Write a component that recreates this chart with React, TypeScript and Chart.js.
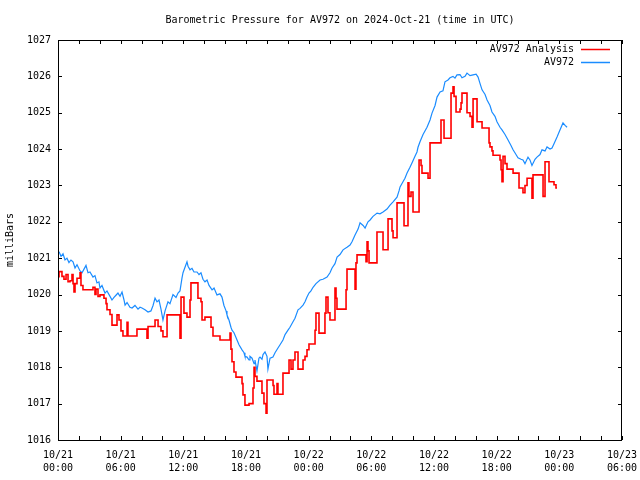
import React, { useEffect, useRef } from "react";
import { Chart, registerables } from "chart.js";

Chart.register(...registerables);

// Hours since 2024-10-21 00:00 UTC
const obsHours = [
  0.10, 0.29, 0.48, 0.67, 0.86, 1.05, 1.24, 1.44, 1.63, 1.82, 2.11, 2.30, 2.49, 2.68, 2.87, 3.06,
  3.35, 3.54, 3.73, 3.92, 4.02, 4.21, 4.50, 4.69, 4.98, 5.17, 5.36, 5.55, 5.74, 5.94, 6.13, 6.32,
  6.42, 6.61, 6.89, 7.09, 7.37, 7.66, 7.85, 8.04, 8.33, 8.62, 8.90, 9.10, 9.29, 9.48, 9.67, 9.86,
  10.05, 10.25, 10.53, 10.72, 11.01, 11.30, 11.49, 11.68, 11.87, 11.97, 12.16, 12.35, 12.45, 12.64,
  12.83, 13.02, 13.31, 13.50, 13.69, 13.88, 14.07, 14.27, 14.46, 14.75, 14.94, 15.22, 15.51, 15.70,
  15.89, 16.09, 16.18, 16.37, 16.56, 16.66, 16.85, 17.04, 17.14, 17.33, 17.62, 17.81, 17.90, 18.10,
  18.29, 18.38, 18.58, 18.77, 18.86, 19.05, 19.24, 19.34, 19.53, 19.63, 19.82, 20.01, 20.10, 20.30,
  20.58, 20.78, 21.06, 21.26, 21.54, 21.74, 22.02, 22.21, 22.50, 22.69, 22.98, 23.17, 23.46, 23.65,
  23.84, 24.03, 24.22, 24.42, 24.70, 25.09, 25.37, 25.76, 26.04, 26.24, 26.52, 26.72, 27.00, 27.29,
  27.67, 27.96, 28.15, 28.44, 28.73, 28.92, 29.21, 29.40, 29.68, 29.88, 30.16, 30.55, 30.83, 31.12,
  31.50, 31.79, 32.08, 32.46, 32.65, 32.75, 33.03, 33.22, 33.42, 33.70, 33.89, 34.18, 34.37, 34.47,
  34.66, 34.95, 35.33, 35.62, 35.81, 36.10, 36.29, 36.58, 36.86, 37.05, 37.34, 37.53, 37.82, 38.01,
  38.20, 38.49, 38.68, 38.97, 39.16, 39.45, 39.74, 40.03, 40.22, 40.41, 40.60, 40.89, 41.08, 41.36,
  41.55, 41.84, 42.03, 42.32, 42.51, 42.80, 43.09, 43.37, 43.57, 43.85, 44.04, 44.33, 44.52, 44.71,
  45.00, 45.19, 45.38, 45.67, 45.86, 46.15, 46.34, 46.63, 46.82, 47.11, 47.30, 47.49, 47.78, 48.07,
  48.35, 48.55, 48.74,
];

const obsValues = [
  1021.18, 1021.05, 1021.12, 1020.95, 1021.0, 1020.88, 1020.95, 1020.9, 1020.73, 1020.82, 1020.65, 1020.6, 1020.7, 1020.8, 1020.6, 1020.62,
  1020.48, 1020.52, 1020.32, 1020.35, 1020.18, 1020.25, 1020.04, 1020.1, 1019.95, 1019.85, 1019.92, 1019.98, 1020.04, 1019.95, 1020.07, 1019.85,
  1019.71, 1019.78, 1019.65, 1019.63, 1019.7, 1019.6, 1019.65, 1019.63, 1019.58, 1019.52, 1019.55, 1019.7, 1019.9, 1019.8, 1019.85, 1019.6,
  1019.3, 1019.55, 1019.8, 1019.75, 1020.0, 1019.92, 1020.04, 1020.1, 1020.45, 1020.6, 1020.75, 1020.9, 1020.78, 1020.68,
  1020.72, 1020.62, 1020.62, 1020.55, 1020.6, 1020.42, 1020.35, 1020.4, 1020.25, 1020.13, 1020.18, 1019.99, 1020.02, 1019.93,
  1019.7, 1019.55, 1019.44, 1019.3, 1019.1, 1019.02, 1018.95, 1018.82, 1018.75, 1018.62, 1018.48, 1018.4, 1018.3, 1018.28,
  1018.2, 1018.3, 1018.25, 1018.1, 1018.2, 1017.9, 1018.25, 1018.28, 1018.22, 1018.35, 1018.42, 1018.3, 1017.95, 1018.25,
  1018.28, 1018.4, 1018.53, 1018.62, 1018.75, 1018.9, 1019.02, 1019.1, 1019.25, 1019.35, 1019.58, 1019.62, 1019.71, 1019.8,
  1019.93, 1020.04, 1020.1, 1020.2, 1020.3, 1020.4, 1020.42, 1020.48, 1020.6, 1020.73, 1020.85, 1021.03, 1021.1, 1021.23,
  1021.3, 1021.36, 1021.45, 1021.64, 1021.8, 1021.97, 1021.9, 1021.83, 1022.0, 1022.05, 1022.15, 1022.24, 1022.22, 1022.27,
  1022.35, 1022.46, 1022.55, 1022.68, 1022.85, 1022.96, 1023.1, 1023.2, 1023.34, 1023.5, 1023.62, 1023.8, 1023.92, 1024.05,
  1024.2, 1024.4, 1024.6, 1024.8, 1024.99, 1025.2, 1025.43, 1025.57, 1025.6, 1025.85, 1025.9, 1025.96, 1026.0, 1025.95,
  1026.04, 1026.05, 1025.96, 1026.0, 1026.09, 1026.02, 1026.04, 1026.06, 1025.98, 1025.8, 1025.63, 1025.5, 1025.35, 1025.2,
  1025.02, 1024.9, 1024.75, 1024.6, 1024.53, 1024.4, 1024.25, 1024.1, 1023.98, 1023.85, 1023.76, 1023.72, 1023.7, 1023.6,
  1023.78, 1023.7, 1023.55, 1023.72, 1023.78, 1023.85, 1023.98, 1023.95, 1024.06, 1024.0, 1024.03, 1024.15, 1024.33, 1024.53,
  1024.72, 1024.65, 1024.6,
];

const analysisHours = [
  0, 0.10, 0.38, 0.57, 0.77, 0.96, 1.15, 1.34, 1.44, 1.53, 1.63, 1.82, 2.11, 2.20, 2.39, 3.35,
  3.54, 3.64, 3.83, 4.02, 4.40, 4.60, 4.69, 4.98, 5.17, 5.65, 5.84, 6.03, 6.22, 6.61, 6.70, 7.56,
  8.52, 8.62, 9.29, 9.58, 9.86, 10.05, 10.44, 11.68, 11.78, 12.06, 12.35, 12.64, 12.73, 13.40,
  13.69, 13.79, 14.07, 14.65, 14.84, 15.51, 16.47, 16.56, 16.66, 16.85, 17.04, 17.62, 17.71, 17.90,
  18.29, 18.67, 18.77, 18.86, 19.05, 19.53, 19.72, 19.92, 20.01, 20.59, 20.68, 20.97, 21.06, 21.54,
  22.12, 22.31, 22.50, 22.69, 22.98, 23.46, 23.65, 23.84, 24.03, 24.61, 24.70, 24.99, 25.56, 25.66,
  25.85, 26.04, 26.52, 26.62, 26.71, 27.58, 27.67, 28.44, 28.53, 28.63, 29.49, 29.59, 29.68, 29.78,
  30.54, 31.12, 31.60, 31.98, 32.08, 32.46, 33.13, 33.51, 33.60, 33.80, 33.99, 34.57, 34.76, 34.85,
  35.43, 35.62, 36.67, 36.96, 37.63, 37.82, 37.92, 38.11, 38.49, 38.59, 38.68, 39.16, 39.45, 39.64,
  39.74, 40.12, 40.60, 41.27, 41.36, 41.55, 41.65, 42.32, 42.42, 42.51, 42.61, 42.80, 42.99, 43.57,
  44.14, 44.52, 44.71, 44.91, 45.38, 45.48, 46.44, 46.63, 47.01, 47.49, 47.68, 47.78,
];

const analysisValues = [
  1020.49, 1020.63, 1020.5, 1020.42, 1020.55, 1020.35, 1020.38, 1020.55, 1020.3, 1020.07, 1020.3, 1020.45, 1020.6, 1020.25, 1020.13, 1020.2,
  1020.0, 1020.15, 1019.95, 1019.99, 1019.9, 1019.75, 1019.58, 1019.45, 1019.16, 1019.44, 1019.3, 1019.0, 1018.86, 1019.24, 1018.86, 1019.05,
  1018.8, 1019.12, 1019.3, 1019.12, 1019.0, 1018.84, 1019.44, 1018.8, 1019.93, 1019.49, 1019.38, 1019.85, 1020.32, 1019.9,
  1019.8, 1019.3, 1019.38, 1019.1, 1018.86, 1018.75, 1018.94, 1018.5, 1018.15, 1017.87, 1017.73, 1017.55, 1017.24, 1016.96,
  1017.0, 1017.43, 1018.0, 1017.75, 1017.62, 1017.29, 1017.0, 1016.74, 1017.65, 1017.5, 1017.26, 1017.55, 1017.26, 1017.84,
  1018.2, 1017.95, 1018.2, 1018.42, 1017.95, 1018.2, 1018.3, 1018.48, 1018.64, 1019.02, 1019.49, 1018.94, 1019.49, 1019.93,
  1019.5, 1019.3, 1020.18, 1019.9, 1019.6, 1020.13, 1020.7, 1020.15, 1020.87, 1021.09, 1020.9, 1021.45, 1021.2, 1020.87,
  1021.72, 1021.23, 1022.08, 1021.75, 1021.56, 1022.52, 1021.89, 1023.07, 1022.7, 1022.82, 1022.27, 1023.7, 1023.55, 1023.34,
  1023.2, 1024.17, 1024.8, 1024.3, 1025.54, 1025.71, 1025.45, 1025.02, 1025.1, 1025.27, 1025.54, 1025.0, 1024.9, 1024.6,
  1025.38, 1024.75, 1024.58, 1024.17, 1024.06, 1023.95, 1023.83, 1023.7, 1023.43, 1023.1, 1023.8, 1023.6, 1023.45, 1023.34,
  1022.93, 1022.8, 1023.0, 1023.2, 1022.65, 1023.29, 1022.7, 1023.65, 1023.1, 1023.02, 1022.93, 1022.93,
];

const TITLE = "Barometric Pressure for AV972 on 2024-Oct-21 (time in UTC)";
const Y_TITLE = "milliBars";
const SERIES_NAMES = ["AV972 Analysis", "AV972"];
const SERIES_COLORS = ["#ff0000", "#1a8cff"];
const X_MIN = 0;
const X_MAX = 54;
const Y_MIN = 1016;
const Y_MAX = 1027;

const FONT = "'DejaVu Sans Mono', 'Liberation Mono', monospace";

function pad2(n: number) {
  return n < 10 ? "0" + n : String(n);
}

const framePlugin = {
  id: "gnuFrame",
  afterDraw(chart: any) {
    const { ctx, chartArea } = chart;
    const { left, right, top, bottom } = chartArea;
    const xs = chart.scales.x;
    const ys = chart.scales.y;
    ctx.save();
    ctx.strokeStyle = "#000";
    ctx.lineWidth = 1;
    ctx.beginPath();
    ctx.rect(Math.round(left) + 0.5, Math.round(top) + 0.5, Math.round(right - left) - 1, Math.round(bottom - top));
    ctx.stroke();
    ctx.beginPath();
    for (const t of xs.ticks) {
      const px = Math.round(xs.getPixelForValue(t.value)) + 0.5;
      const len = 4;
      ctx.moveTo(px, bottom);
      ctx.lineTo(px, bottom - len);
      ctx.moveTo(px, top);
      ctx.lineTo(px, top + len);
    }
    for (const t of ys.ticks) {
      const py = Math.round(ys.getPixelForValue(t.value)) + 0.5;
      const len = 4;
      ctx.moveTo(left, py);
      ctx.lineTo(left + len, py);
      ctx.moveTo(right, py);
      ctx.lineTo(right - len, py);
    }
    ctx.stroke();

    // key (legend) in the top-right corner
    ctx.font = "10px " + FONT;
    ctx.textAlign = "right";
    ctx.textBaseline = "middle";
    chart.data.datasets.forEach((ds: any, i: number) => {
      const y = Math.round(top + 9 + i * 13) + 0.5;
      ctx.fillStyle = "#000";
      ctx.fillText(ds.label, right - 48, y);
      ctx.strokeStyle = ds.borderColor;
      ctx.lineWidth = 1.5;
      ctx.beginPath();
      ctx.moveTo(right - 41, y);
      ctx.lineTo(right - 12, y);
      ctx.stroke();
    });
    ctx.restore();
  },
};

export default function App() {
  const canvasRef = useRef<HTMLCanvasElement | null>(null);

  useEffect(() => {
    if (!canvasRef.current) return;
    Chart.defaults.font.family = FONT;
    const analysisData = analysisHours.map((h, i) => ({ x: h, y: analysisValues[i] }));
    const obsData = obsHours.map((h, i) => ({ x: h, y: obsValues[i] }));

    const chart = new Chart(canvasRef.current, {
      type: "line",
      data: {
        datasets: [
          {
            label: SERIES_NAMES[0],
            data: analysisData,
            borderColor: SERIES_COLORS[0],
            backgroundColor: SERIES_COLORS[0],
            borderWidth: 1.6,
            stepped: true,
            pointRadius: 0,
            fill: false,
          },
          {
            label: SERIES_NAMES[1],
            data: obsData,
            borderColor: SERIES_COLORS[1],
            backgroundColor: SERIES_COLORS[1],
            borderWidth: 1.2,
            tension: 0,
            pointRadius: 0,
            fill: false,
          },
        ],
      },
      options: {
        animation: false,
        responsive: false,
        devicePixelRatio: 1,
        parsing: false as any,
        layout: { padding: { left: 0, right: 18, top: 0, bottom: 0 } },
        plugins: {
          legend: { display: false },
          tooltip: { enabled: false },
          title: {
            display: true,
            text: TITLE,
            fullSize: false,
            color: "#000",
            font: { family: FONT, size: 10, weight: "normal" as any, lineHeight: 1.2 },
            padding: { top: 14, bottom: 14 },
          },
        },
        scales: {
          x: {
            type: "linear",
            min: X_MIN,
            max: X_MAX,
            grid: { display: false, drawTicks: false },
            border: { display: false },
            ticks: {
              stepSize: 2,
              autoSkip: false,
              maxRotation: 0,
              minRotation: 0,
              maxTicksLimit: 100,
              padding: 9,
              color: "#000",
              font: { family: FONT, size: 10, lineHeight: 1.3 },
              callback: (value: any) => {
                const v = Number(value);
                if (v % 6 !== 0) return "";
                const day = 21 + Math.floor(v / 24);
                const hh = v % 24;
                return ["10/" + day, pad2(hh) + ":00"];
              },
            },
            afterFit: (s: any) => {
              s.height = 40;
              s.paddingLeft = 0;
              s.paddingRight = 0;
            },
          },
          y: {
            type: "linear",
            min: Y_MIN,
            max: Y_MAX,
            grid: { display: false, drawTicks: false },
            border: { display: false },
            ticks: {
              stepSize: 1,
              padding: 7,
              color: "#000",
              font: { family: FONT, size: 10 },
              callback: (value: any) => String(value),
            },
            title: {
              display: true,
              text: Y_TITLE,
              color: "#000",
              font: { family: FONT, size: 10 },
              padding: { top: 4, bottom: 4 },
            },
            afterFit: (s: any) => {
              s.width = 58;
              s.paddingTop = 0;
              s.paddingBottom = 0;
            },
          },
        },
      },
      plugins: [framePlugin],
    });
    return () => chart.destroy();
  }, []);

  return (
    <div style={{ position: "absolute", left: 0, top: 0, width: 640, height: 480, background: "#fff" }}>
      <canvas ref={canvasRef} width={640} height={480} />
    </div>
  );
}
